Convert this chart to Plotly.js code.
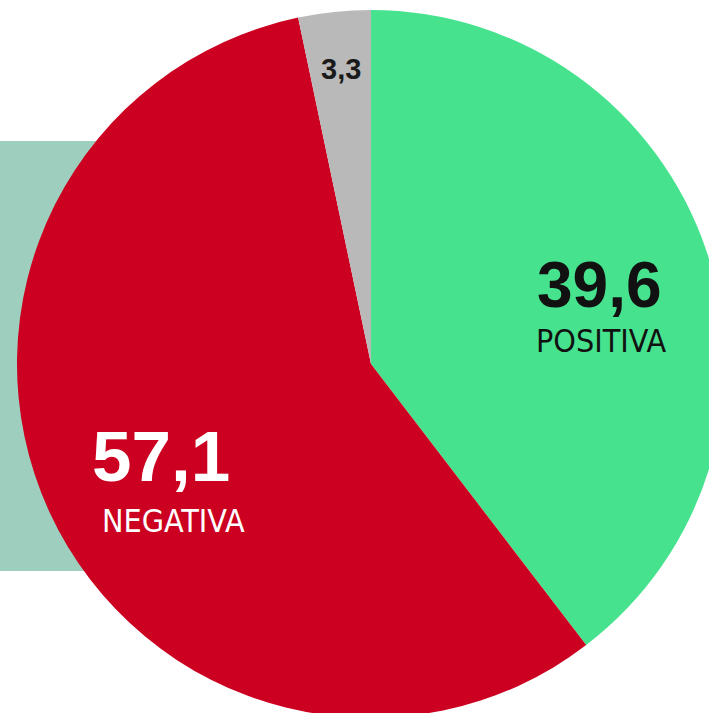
<!DOCTYPE html>
<html>
<head>
<meta charset="utf-8">
<script src="https://cdn.plot.ly/plotly-3.0.1.min.js"></script>
<style>
  html, body { margin: 0; padding: 0; width: 709px; height: 713px; overflow: hidden; background: #ffffff; }
  #chart { position: absolute; left: -29px; top: -36px; width: 800px; height: 800px; }
</style>
</head>
<body>
<div id="chart"></div>
<script>
// Data
const categories = ['POSITIVA', 'NEGATIVA', 'NS/NC'];
const values = [39.6, 57.1, 3.3];
const valueLabels = ['39,6', '57,1', '3,3'];
const colors = ['#46e28e', '#cc0020', '#b9b9b9'];

// Layout helpers (div is 800x800, offset -29,-36 from page)
const W = 800, H = 800, OX = -29, OY = -36;
const px = x => (x - OX) / W;
const py = y => 1 - (y - OY) / H;

const R = 354, CX = 371, CY = 364;

const trace = {
  type: 'pie',
  labels: categories,
  values: values,
  sort: false,
  direction: 'clockwise',
  rotation: 0,
  textinfo: 'none',
  hoverinfo: 'label+value',
  marker: { colors: colors, line: { width: 0 } },
  domain: { x: [px(CX - R), px(CX + R)], y: [py(CY + R), py(CY - R)] },
  showlegend: false
};

const boldFont = 'Liberation Sans, Arial, Helvetica, sans-serif';
const narrowFont = 'Liberation Sans Narrow, Arial Narrow, DejaVu Sans Condensed, sans-serif';

const layout = {
  width: W, height: H,
  margin: { l: 0, r: 0, t: 0, b: 0 },
  paper_bgcolor: 'rgba(0,0,0,0)',
  plot_bgcolor: 'rgba(0,0,0,0)',
  showlegend: false,
  shapes: [{
    type: 'rect', xref: 'paper', yref: 'paper', layer: 'below',
    x0: 0, x1: px(160), y0: py(571), y1: py(141),
    fillcolor: '#9ecfbe', line: { width: 0 }
  }],
  annotations: [
    { text: '<b>' + valueLabels[0] + '</b>', x: px(599), y: py(285), xref: 'paper', yref: 'paper',
      xanchor: 'center', yanchor: 'middle', showarrow: false,
      font: { family: boldFont, size: 64, color: '#111111' } },
    { text: categories[0], x: px(601), y: py(341), xref: 'paper', yref: 'paper',
      xanchor: 'center', yanchor: 'middle', showarrow: false,
      font: { family: narrowFont, size: 32, color: '#111111' } },
    { text: '<b>' + valueLabels[1] + '</b>', x: px(161), y: py(456), xref: 'paper', yref: 'paper',
      xanchor: 'center', yanchor: 'middle', showarrow: false,
      font: { family: boldFont, size: 71, color: '#ffffff' } },
    { text: categories[1], x: px(173), y: py(521), xref: 'paper', yref: 'paper',
      xanchor: 'center', yanchor: 'middle', showarrow: false,
      font: { family: narrowFont, size: 32, color: '#ffffff' } },
    { text: '<b>' + valueLabels[2] + '</b>', x: px(341), y: py(69), xref: 'paper', yref: 'paper',
      xanchor: 'center', yanchor: 'middle', showarrow: false,
      font: { family: boldFont, size: 29, color: '#1a1a1a' } }
  ]
};

Plotly.newPlot('chart', [trace], layout, { displayModeBar: false, staticPlot: true });
</script>
</body>
</html>
